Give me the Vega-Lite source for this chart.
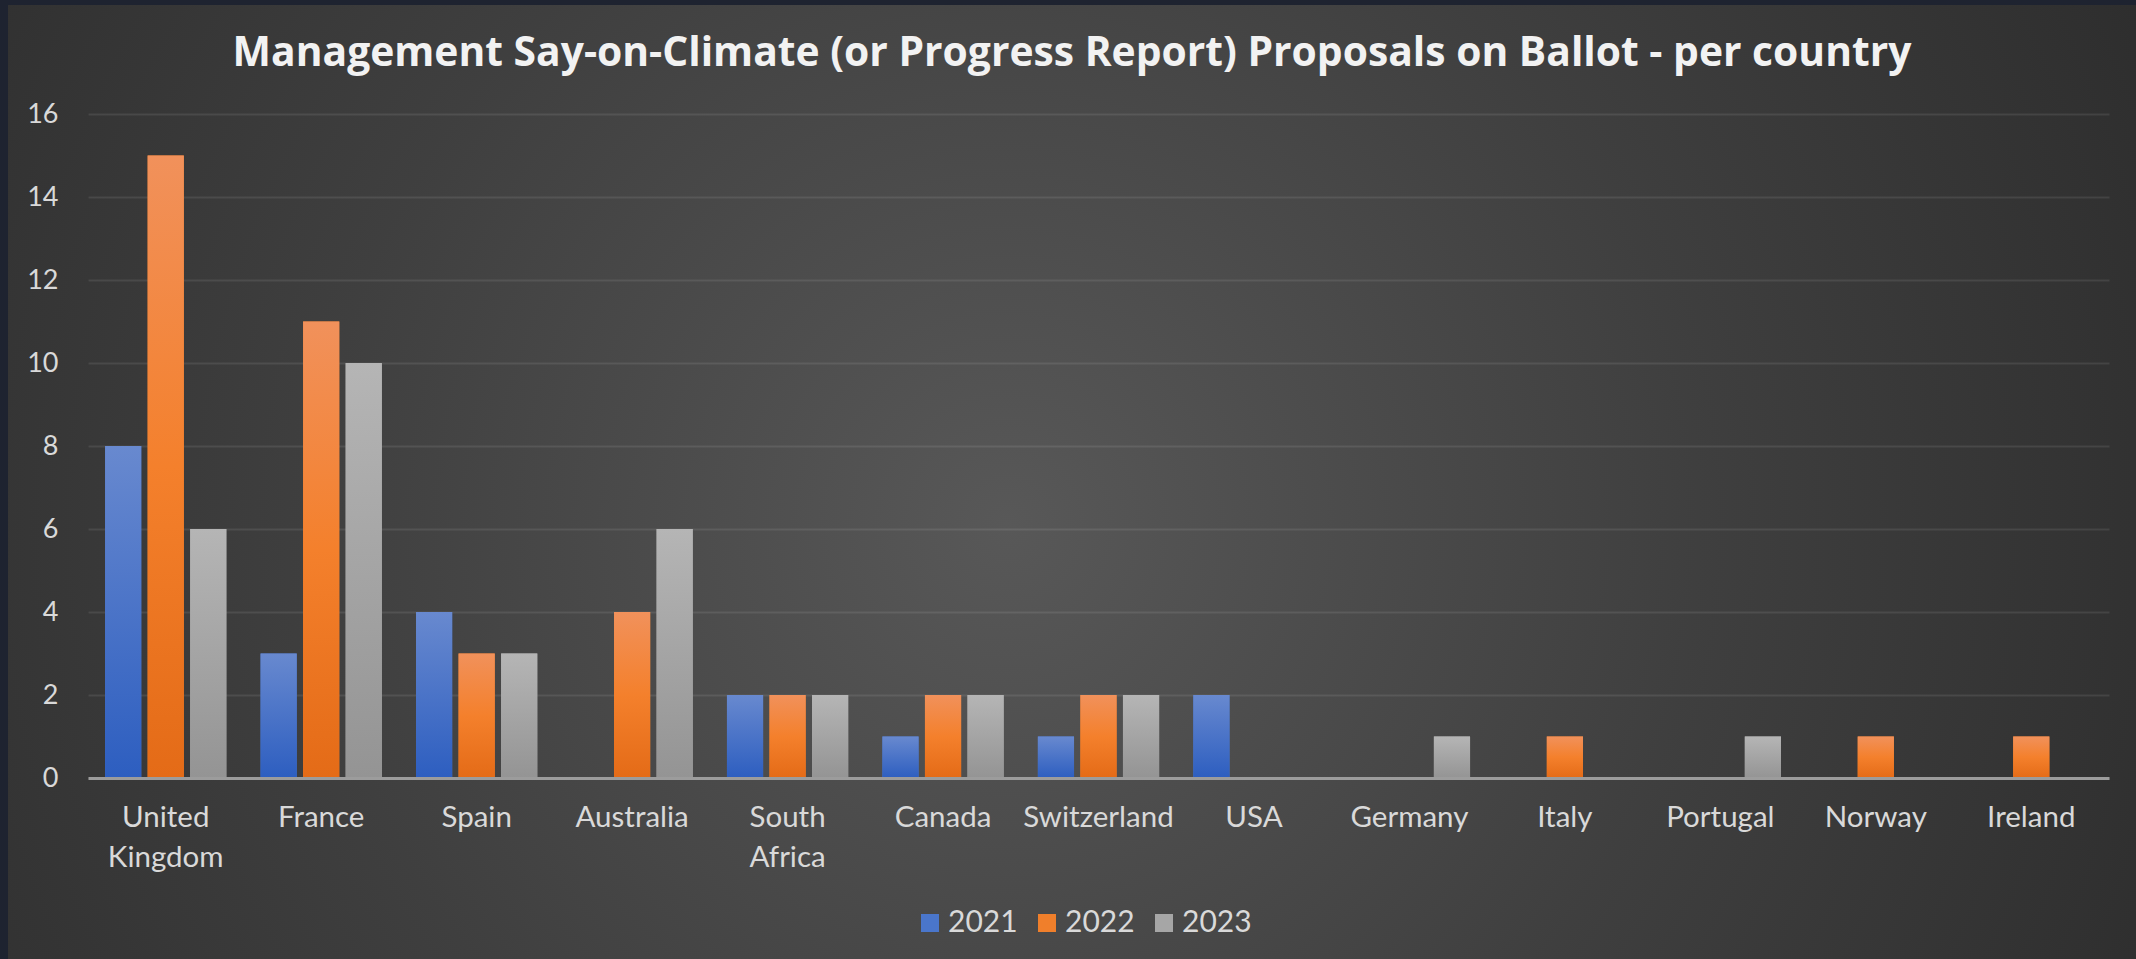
{
  "$schema": "https://vega.github.io/schema/vega-lite/v6.json",
  "width": 2128,
  "height": 954,
  "autosize": "none",
  "padding": {"left": 8, "top": 5, "right": 0, "bottom": 0},
  "background": "#1e2330",
  "config": {
    "view": {
      "stroke": null,
      "fill": {
        "gradient": "radial",
        "x1": 0.47, "y1": 0.52, "r1": 0,
        "x2": 0.47, "y2": 0.52, "r2": 0.72,
        "stops": [
          {"offset": 0, "color": "#585858"},
          {"offset": 0.45, "color": "#3f3f3f"},
          {"offset": 1, "color": "#252525"}
        ]
      }
    },
    "font": "Lato"
  },
  "title": {
    "text": "Management Say-on-Climate (or Progress Report) Proposals on Ballot - per country",
    "font": "Open Sans",
    "fontSize": 40.8,
    "fontWeight": "bold",
    "color": "#f2f2f2",
    "anchor": "middle",
    "frame": "group",
    "offset": 0,
    "dy": 70
  },
  "data": {
    "values": [
      {"country": "United Kingdom", "year": "2021", "count": 8},
      {"country": "United Kingdom", "year": "2022", "count": 15},
      {"country": "United Kingdom", "year": "2023", "count": 6},
      {"country": "France", "year": "2021", "count": 3},
      {"country": "France", "year": "2022", "count": 11},
      {"country": "France", "year": "2023", "count": 10},
      {"country": "Spain", "year": "2021", "count": 4},
      {"country": "Spain", "year": "2022", "count": 3},
      {"country": "Spain", "year": "2023", "count": 3},
      {"country": "Australia", "year": "2022", "count": 4},
      {"country": "Australia", "year": "2023", "count": 6},
      {"country": "South Africa", "year": "2021", "count": 2},
      {"country": "South Africa", "year": "2022", "count": 2},
      {"country": "South Africa", "year": "2023", "count": 2},
      {"country": "Canada", "year": "2021", "count": 1},
      {"country": "Canada", "year": "2022", "count": 2},
      {"country": "Canada", "year": "2023", "count": 2},
      {"country": "Switzerland", "year": "2021", "count": 1},
      {"country": "Switzerland", "year": "2022", "count": 2},
      {"country": "Switzerland", "year": "2023", "count": 2},
      {"country": "USA", "year": "2021", "count": 2},
      {"country": "Germany", "year": "2023", "count": 1},
      {"country": "Italy", "year": "2022", "count": 1},
      {"country": "Portugal", "year": "2023", "count": 1},
      {"country": "Norway", "year": "2022", "count": 1},
      {"country": "Ireland", "year": "2022", "count": 1}
    ]
  },
  "encoding": {
    "x": {
      "field": "country",
      "type": "nominal",
      "sort": ["United Kingdom", "France", "Spain", "Australia", "South Africa", "Canada", "Switzerland", "USA", "Germany", "Italy", "Portugal", "Norway", "Ireland"],
      "scale": {"range": [80, 2101], "paddingInner": 0.22, "paddingOuter": 0.11},
      "axis": {
        "title": null,
        "offset": -181,
        "zindex": 1,
        "domainColor": "#9c9c9c",
        "domainWidth": 3,
        "ticks": false,
        "labelAngle": 0,
        "labelPadding": 25,
        "labelFont": "Lato",
        "labelFontSize": 29.5,
        "labelColor": "#d9d9d9",
        "labelLineHeight": 40,
        "labelBaseline": "top",
        "labelExpr": "datum.label == 'United Kingdom' ? ['United', 'Kingdom'] : datum.label == 'South Africa' ? ['South', 'Africa'] : datum.label"
      }
    },
    "xOffset": {
      "field": "year",
      "type": "nominal",
      "scale": {"domain": ["2021", "2022", "2023"], "paddingInner": 0.15, "paddingOuter": 0}
    },
    "y": {
      "field": "count",
      "type": "quantitative",
      "scale": {"domain": [0, 16], "range": [773, 109], "nice": false},
      "axis": {
        "title": null,
        "offset": -54,
        "values": [0, 2, 4, 6, 8, 10, 12, 14, 16],
        "domain": false,
        "ticks": false,
        "labelPadding": 4,
        "labelFont": "Lato",
        "labelFontSize": 27,
        "labelColor": "#d9d9d9",
        "gridColor": "#ffffff",
        "gridOpacity": 0.09,
        "gridWidth": 2
      }
    }
  },
  "layer": [
    {
      "mark": {"type": "bar"},
      "encoding": {
        "color": {
          "field": "year",
          "type": "nominal",
          "scale": {"domain": ["2021", "2022", "2023"], "range": ["#4a76cb", "#f07f2b", "#a6a6a6"]},
          "legend": {
            "title": null,
            "orient": "none",
            "direction": "horizontal",
            "legendX": 907,
            "legendY": 903,
            "padding": 0,
            "symbolType": "square",
            "symbolSize": 324,
            "symbolStrokeWidth": 0,
            "symbolOpacity": 1,
            "labelFont": "Lato",
            "labelFontSize": 30,
            "labelColor": "#d9d9d9",
            "labelOffset": 3,
            "columnPadding": 14
          }
        }
      }
    },
    {
      "transform": [{"filter": "datum.year == '2021'"}],
      "mark": {
        "type": "bar",
        "fill": {
          "gradient": "linear", "x1": 0, "y1": 0, "x2": 0, "y2": 1,
          "stops": [{"offset": 0, "color": "#6889cf"}, {"offset": 1, "color": "#2d5ec0"}]
        }
      }
    },
    {
      "transform": [{"filter": "datum.year == '2022'"}],
      "mark": {
        "type": "bar",
        "fill": {
          "gradient": "linear", "x1": 0, "y1": 0, "x2": 0, "y2": 1,
          "stops": [{"offset": 0, "color": "#f1915b"}, {"offset": 0.5, "color": "#f4802c"}, {"offset": 1, "color": "#e46b17"}]
        }
      }
    },
    {
      "transform": [{"filter": "datum.year == '2023'"}],
      "mark": {
        "type": "bar",
        "fill": {
          "gradient": "linear", "x1": 0, "y1": 0, "x2": 0, "y2": 1,
          "stops": [{"offset": 0, "color": "#b5b5b5"}, {"offset": 1, "color": "#949494"}]
        }
      }
    }
  ]
}
